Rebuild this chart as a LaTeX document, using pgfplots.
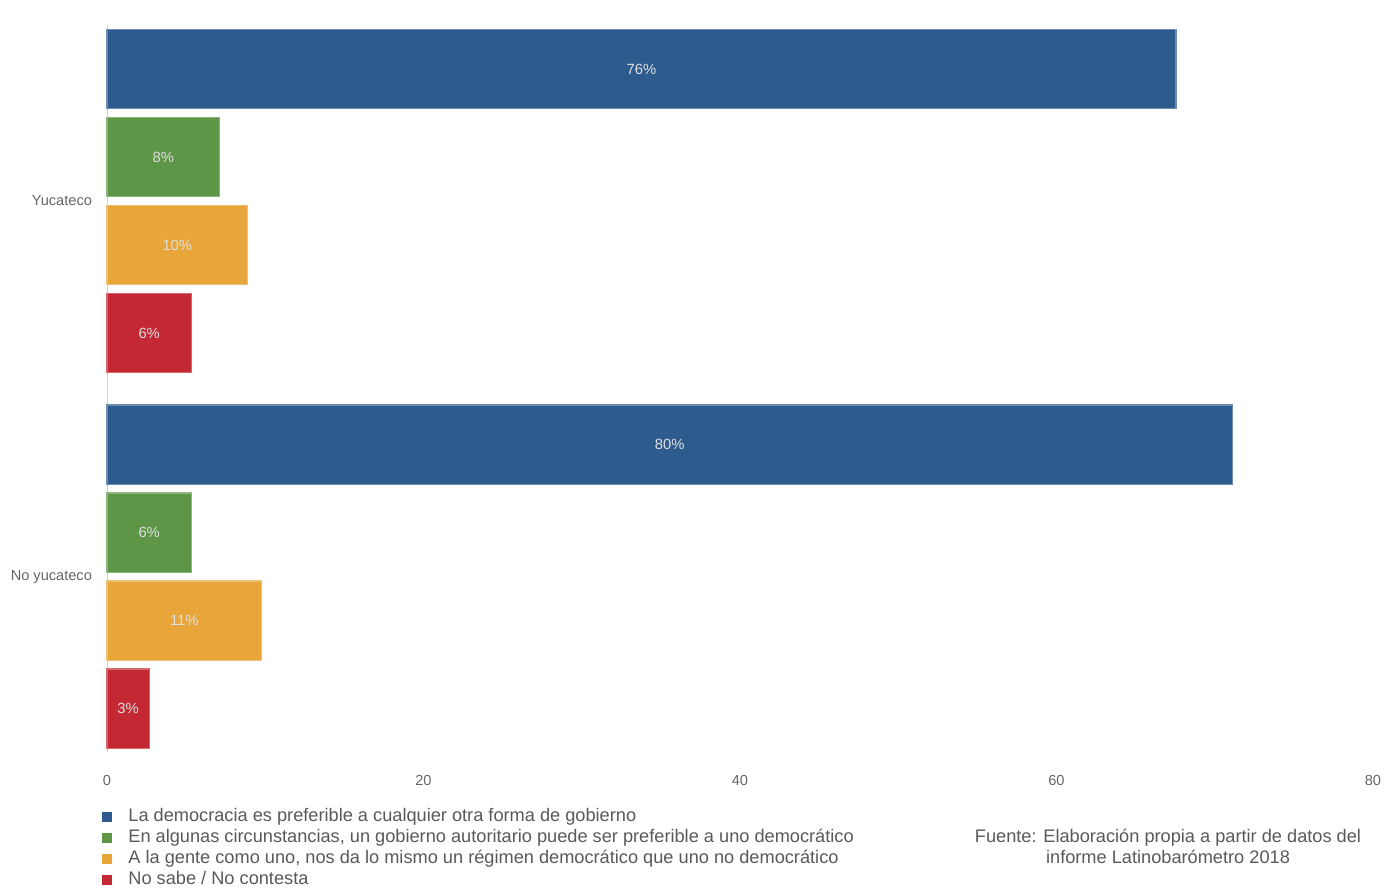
\documentclass[border=0pt]{standalone}
\usepackage{fontspec}
\setmainfont{Liberation Sans}
\usepackage{pgfplots}
\usepackage{pgfplotstable}
\pgfplotsset{compat=1.18}
\definecolor{cBlue}{HTML}{2E5B8E}
\definecolor{cGreen}{HTML}{5C9646}
\definecolor{cOrange}{HTML}{E8A53A}
\definecolor{cRed}{HTML}{C42832}
\pgfplotsset{/pgf/number format/assume math mode=true}
% y = bar position, v = percent
\pgfplotstableread{
y v
1 76
5.267 80
}\tblA
\pgfplotstableread{
y v
2 8
6.267 6
}\tblB
\pgfplotstableread{
y v
3 10
7.267 11
}\tblC
\pgfplotstableread{
y v
4 6
8.267 3
}\tblD
\pgfplotsset{
  barlbl/.style={forget plot, draw=none, mark=none, point meta=explicit,
    nodes near coords={\pgfmathprintnumber{\pgfplotspointmeta}\%},
    every node near coord/.append style={anchor=center, font=\fontsize{7.4}{8}\selectfont, text=white!75!gray}},
}
\begin{document}
\begin{tikzpicture}
\useasboundingbox (0,0) rectangle (693.5pt,-444pt);
\begin{axis}[
  at={(53.5pt,-376pt)}, anchor=south west,
  scale only axis, width=633pt, height=363.5pt,
  xmin=0, xmax=90, ymin=0.5, ymax=8.76, y dir=reverse,
  xtick={0,22.5,45,67.5,90}, xticklabels={0,20,40,60,80},
  ytick={2.5,6.767}, yticklabels={Yucateco,No yucateco},
  axis lines*=left,
  x axis line style={draw=none},
  y axis line style={draw=gray!35},
  major tick length=0pt,
  tick label style={font=\fontsize{7.3}{8}\selectfont, text=black!60},
  xticklabel style={yshift=-8pt},
  yticklabel style={xshift=-4pt},
  bar width=0.9,
  clip=false,
  legend cell align=left,
  legend style={at={(0,0)}, anchor=north west, xshift=-2.5pt, yshift=-27pt,
    draw=none, fill=none, inner sep=0pt, row sep=0pt,
    font=\fontsize{9.1}{10.5}\selectfont, text=black!65,
    nodes={inner sep=1.2pt, text height=6.3pt, text depth=1.8pt}},
  legend image code/.code={\fill[#1,draw=none] (0pt,-2.5pt) rectangle (5pt,2.5pt); \path (11.5pt,0pt);},
]
\addplot[xbar, bar shift=0pt, fill=cBlue, draw=cBlue!70!white, line width=0.6pt] table[x=v,y=y]{\tblA};
\addlegendentry{La democracia es preferible a cualquier otra forma de gobierno}
\addplot[xbar, bar shift=0pt, fill=cGreen, draw=cGreen!70!white, line width=0.6pt] table[x=v,y=y]{\tblB};
\addlegendentry{En algunas circunstancias, un gobierno autoritario puede ser preferible a uno democrático}
\addplot[xbar, bar shift=0pt, fill=cOrange, draw=cOrange!70!white, line width=0.6pt] table[x=v,y=y]{\tblC};
\addlegendentry{A la gente como uno, nos da lo mismo un régimen democrático que uno no democrático}
\addplot[xbar, bar shift=0pt, fill=cRed, draw=cRed!70!white, line width=0.6pt] table[x=v,y=y]{\tblD};
\addlegendentry{No sabe / No contesta}
\addplot[barlbl] table[x expr=\thisrow{v}/2, y=y, meta=v]{\tblA};
\addplot[barlbl] table[x expr=\thisrow{v}/2, y=y, meta=v]{\tblB};
\addplot[barlbl] table[x expr=\thisrow{v}/2, y=y, meta=v]{\tblC};
\addplot[barlbl] table[x expr=\thisrow{v}/2, y=y, meta=v]{\tblD};
\end{axis}
\node[align=center, font=\fontsize{9.1}{10.5}\selectfont, text=black!65] at (584pt,-423pt) {Fuente: Elaboración propia a partir de datos del\\informe Latinobarómetro 2018};
\end{tikzpicture}
\end{document}
